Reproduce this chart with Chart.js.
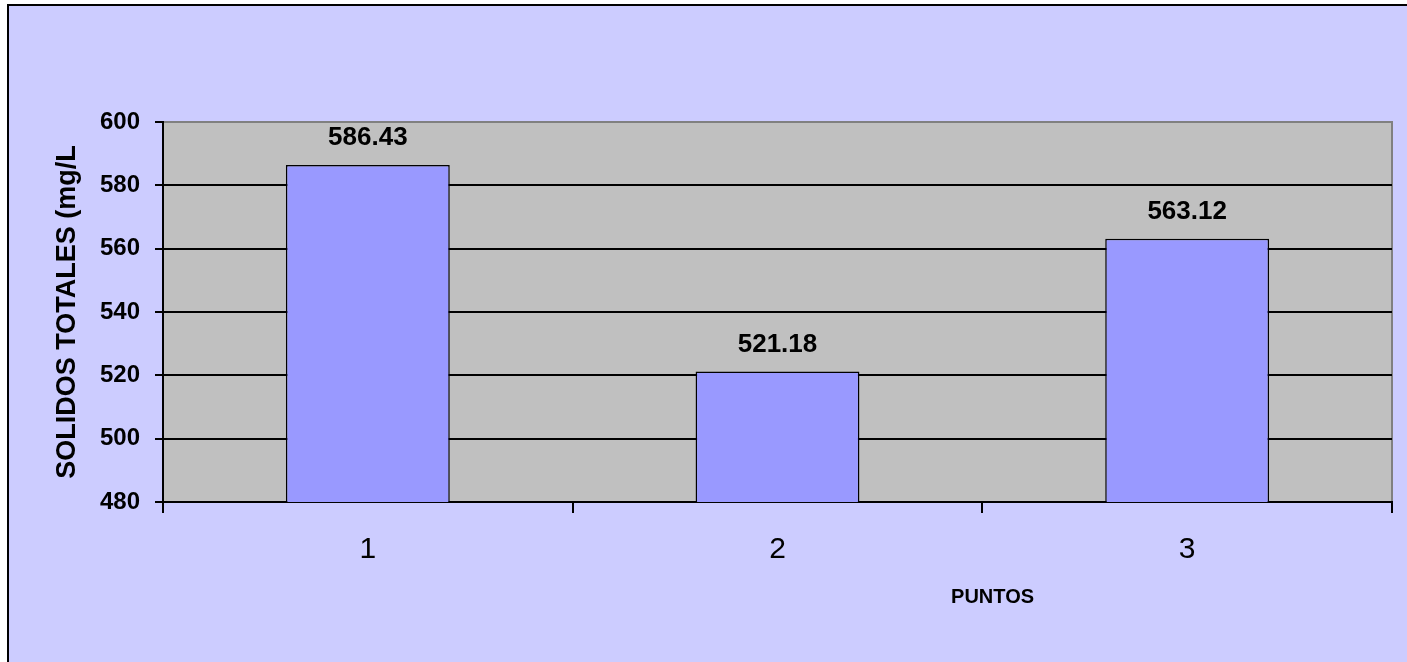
<!DOCTYPE html>
<html lang="es">
<head>
<meta charset="UTF-8">
<title>Solidos totales</title>
<script src="https://cdn.jsdelivr.net/npm/chart.js"></script>
<style>
  html, body {
    margin: 0;
    padding: 0;
    background: #fff;
    width: 1407px;
    height: 662px;
    overflow: hidden;
  }
  .frame {
    position: absolute;
    left: 7px;
    top: 4px;
    right: 0;
    bottom: 0;
    background: #CCCCFF;
    border-left: 2px solid #000;
    border-top: 2px solid #000;
  }
  .canvas-container {
    position: absolute;
    left: 0;
    top: 0;
    width: 1407px;
    height: 662px;
  }
</style>
</head>
<body>
<div class="frame"></div>
<div class="canvas-container"><canvas id="chart"></canvas></div>

<script>
var puntos = ['1', '2', '3'];
var solidosTotales = [586.43, 521.18, 563.12];
var yTicks = [480, 500, 520, 540, 560, 580, 600];
var yTitle = 'SOLIDOS TOTALES (mg/L';
var xTitle = 'PUNTOS';

var FONT = '"Liberation Sans", Arial, sans-serif';

// fondo gris del area de trazado
var plotBackground = {
  id: 'plotBackground',
  beforeDraw: function(chart) {
    var a = chart.chartArea;
    var ctx = chart.ctx;
    ctx.save();
    ctx.fillStyle = '#C0C0C0';
    ctx.fillRect(a.left, a.top, a.right - a.left, a.bottom - a.top);
    ctx.strokeStyle = '#808080';
    ctx.lineWidth = 2;
    ctx.beginPath();
    ctx.moveTo(a.left, a.top);
    ctx.lineTo(a.right, a.top);
    ctx.lineTo(a.right, a.bottom);
    ctx.stroke();
    ctx.restore();
  }
};

// etiquetas de valor y titulo del eje x
var labels = {
  id: 'labels',
  afterDatasetsDraw: function(chart) {
    var ctx = chart.ctx;
    var meta = chart.getDatasetMeta(0);
    ctx.save();
    ctx.fillStyle = '#000';
    ctx.font = 'bold 26px ' + FONT;
    ctx.textAlign = 'center';
    ctx.textBaseline = 'alphabetic';
    meta.data.forEach(function(bar, i) {
      ctx.fillText(solidosTotales[i].toFixed(2), bar.x, bar.y - 20);
    });
    var a = chart.chartArea;
    ctx.font = 'bold 20px ' + FONT;
    ctx.textBaseline = 'middle';
    ctx.fillText(xTitle, a.left + (a.right - a.left) * 0.675, 597);
    ctx.restore();
  }
};

new Chart(document.getElementById('chart'), {
  type: 'bar',
  data: {
    labels: puntos,
    datasets: [{
      data: solidosTotales,
      backgroundColor: '#9999FF',
      borderColor: '#000',
      borderWidth: 1.5,
      barPercentage: 0.4,
      categoryPercentage: 1
    }]
  },
  options: {
    responsive: true,
    maintainAspectRatio: false,
    animation: false,
    layout: {
      padding: { left: 0, top: 122, right: 15, bottom: 0 }
    },
    plugins: {
      legend: { display: false },
      tooltip: { enabled: false }
    },
    scales: {
      x: {
        offset: true,
        afterFit: function(scale) { scale.height = 160; },
        border: { color: '#000', width: 2 },
        grid: {
          offset: true,
          drawOnChartArea: false,
          color: '#000',
          lineWidth: 2,
          tickLength: 11
        },
        ticks: {
          color: '#000',
          padding: 19,
          font: { family: FONT, size: 30 }
        }
      },
      y: {
        min: 480,
        max: 600,
        afterFit: function(scale) { scale.width = 163; },
        afterBuildTicks: function(scale) {
          scale.ticks = yTicks.map(function(v) { return { value: v }; });
        },
        border: { color: '#000', width: 2 },
        grid: {
          color: function(c) { return c.tick && c.tick.value === 600 ? '#808080' : '#000'; },
          lineWidth: 2,
          tickLength: 8,
          tickColor: '#000'
        },
        ticks: {
          color: '#000',
          padding: 15,
          font: { family: FONT, size: 24, weight: 'bold' }
        },
        title: {
          display: true,
          text: yTitle,
          color: '#000',
          padding: { top: 51, bottom: 0 },
          font: { family: FONT, size: 27, weight: 'bold' }
        }
      }
    }
  },
  plugins: [plotBackground, labels]
});
</script>
</body>
</html>
